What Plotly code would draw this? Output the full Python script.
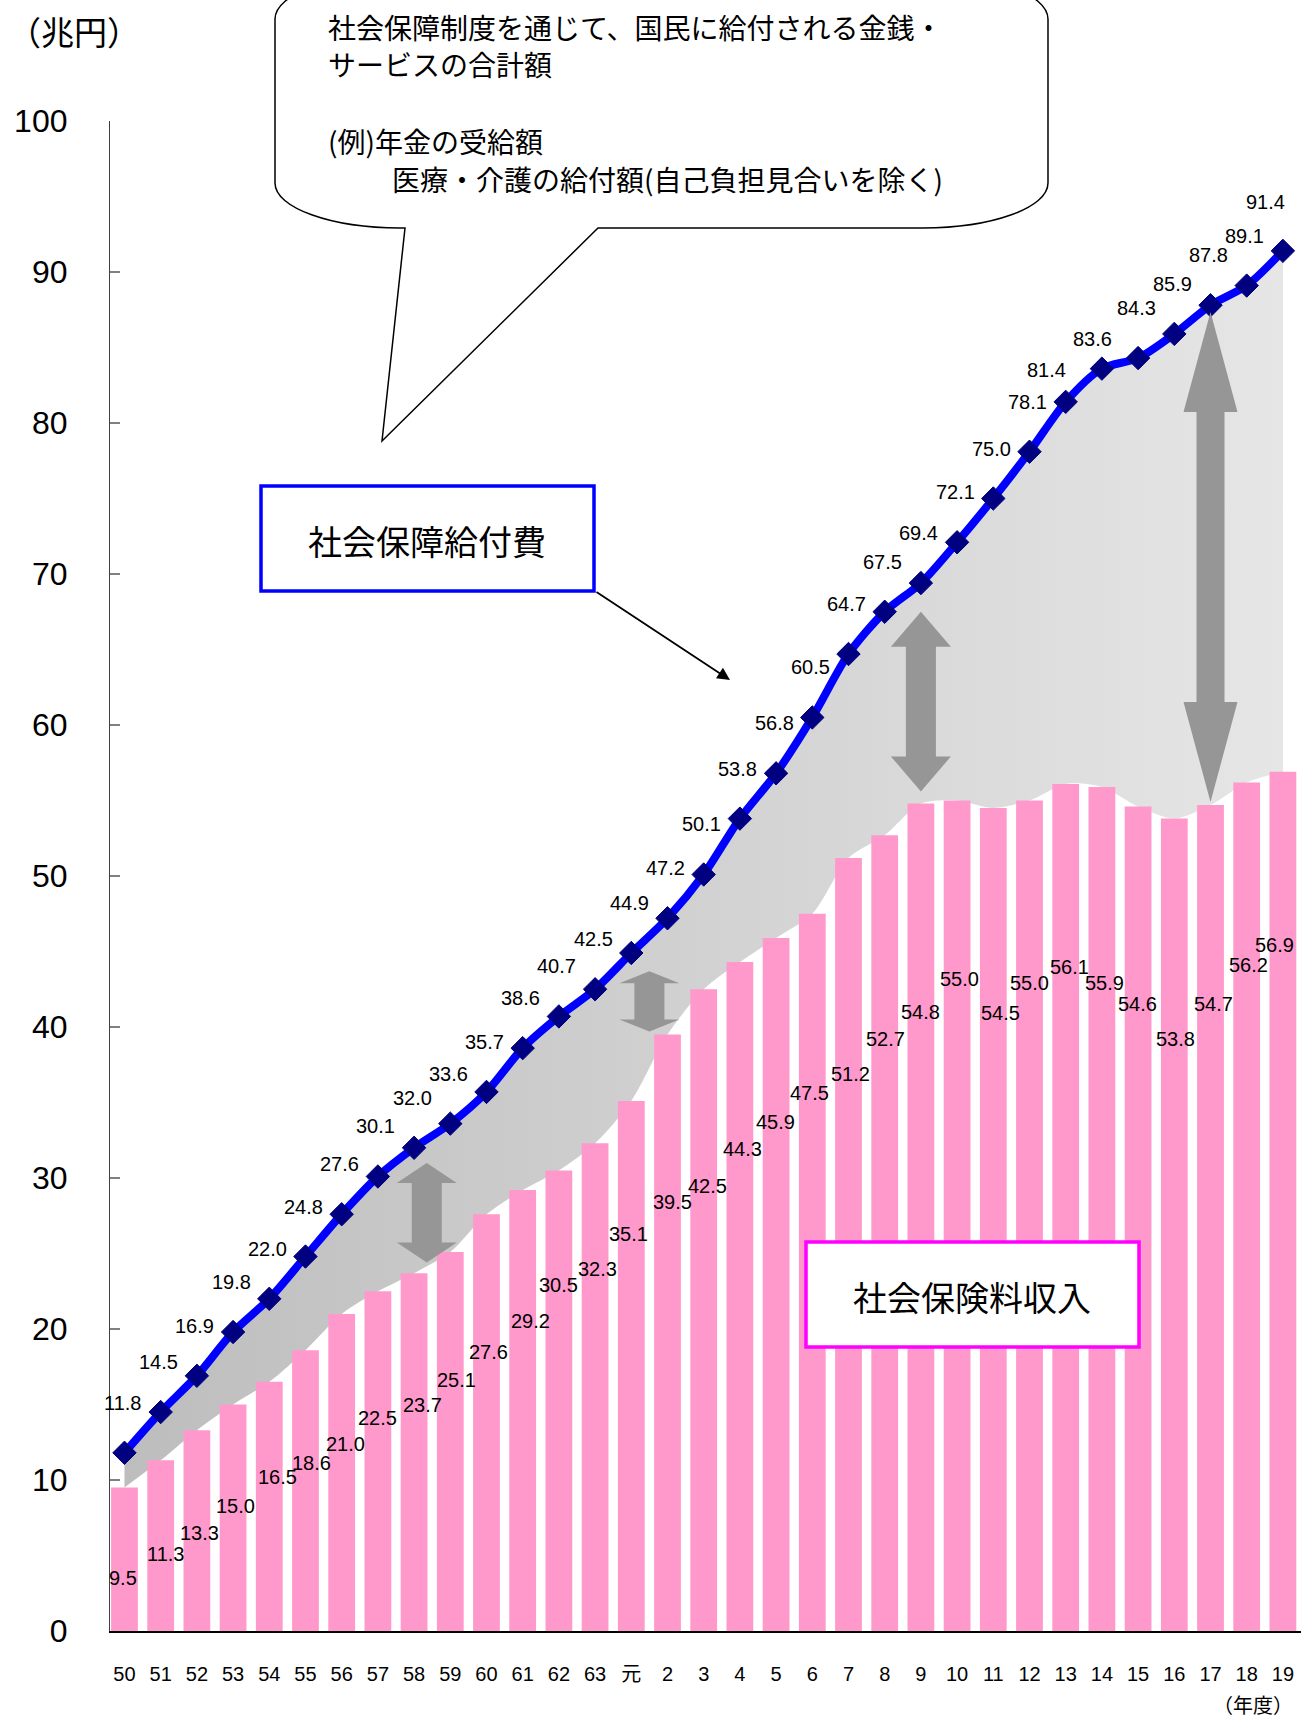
import plotly.graph_objects as go

# --- data (兆円) -------------------------------------------------------------
years = ["50", "51", "52", "53", "54", "55", "56", "57", "58", "59", "60", "61",
         "62", "63", "元", "2", "3", "4", "5", "6", "7", "8", "9", "10", "11",
         "12", "13", "14", "15", "16", "17", "18", "19"]

benefits = [11.8, 14.5, 16.9, 19.8, 22.0, 24.8, 27.6, 30.1, 32.0, 33.6, 35.7,
            38.6, 40.7, 42.5, 44.9, 47.2, 50.1, 53.8, 56.8, 60.5, 64.7, 67.5,
            69.4, 72.1, 75.0, 78.1, 81.4, 83.6, 84.3, 85.9, 87.8, 89.1, 91.4]

contributions = [9.5, 11.3, 13.3, 15.0, 16.5, 18.6, 21.0, 22.5, 23.7, 25.1,
                 27.6, 29.2, 30.5, 32.3, 35.1, 39.5, 42.5, 44.3, 45.9, 47.5,
                 51.2, 52.7, 54.8, 55.0, 54.5, 55.0, 56.1, 55.9, 54.6, 53.8,
                 54.7, 56.2, 56.9]

# --- layout geometry ---------------------------------------------------------
W, H = 1301, 1721
PLOT_L, PLOT_T = 110, 121
PLOT_W, PLOT_H = W - PLOT_L, 1510
X_RANGE = [-0.4, 32.5]
Y_RANGE = [0, 100]
X_PPU = PLOT_W / (X_RANGE[1] - X_RANGE[0])
Y_PPU = PLOT_H / (Y_RANGE[1] - Y_RANGE[0])

idx = list(range(len(years)))


def paper_x(px):
    return (px - PLOT_L) / PLOT_W


def paper_y(py):
    return (PLOT_T + PLOT_H - py) / PLOT_H


# label placement for the income bars (drop below bar top, in 兆円; x nudge in px)
income_label_drop = [6.0, 6.2, 6.8, 6.7, 6.3, 7.5, 8.6, 8.4, 8.7, 8.5, 9.1, 8.7,
                     7.6, 8.3, 8.8, 11.1, 13.0, 12.4, 12.2, 11.9, 14.3, 13.5,
                     13.8, 11.8, 13.6, 12.1, 12.1, 13.0, 13.1, 14.6, 13.2, 12.1,
                     11.5]
income_label_nudge = [-1, 5, 3, 2, 8, 6, 4, 0, 8, 6, 2, 8, 0, 2, -3, 5, 4, 3, -1,
                      -3, 2, 1, 0, 2, 7, 0, 4, 3, -1, 1, 3, 2, -8]

# benefit labels sit 50px above each point, a few are moved aside
benefit_label_shift = {26: (-19, 32), 27: (-9, 30), 32: (-17, 49)}

fig = go.Figure()

# lower edge of the shaded gap (income curve), invisible
fig.add_trace(go.Scatter(
    x=idx, y=contributions, mode="lines",
    line=dict(color="rgba(0,0,0,0)", width=0, shape="spline", smoothing=0.8),
    hoverinfo="skip", showlegend=False))

# benefit line with gradient fill down to the income curve
fig.add_trace(go.Scatter(
    x=idx, y=benefits, mode="lines+markers",
    line=dict(color="#0000FF", width=8, shape="spline", smoothing=0.8),
    marker=dict(symbol="diamond", size=18, color="#000080",
                line=dict(color="#000080", width=1)),
    fill="tonexty",
    fillgradient=dict(type="horizontal",
                      colorscale=[[0, "#bdbdbd"], [1, "#e6e6e6"]]),
    hoverinfo="skip", showlegend=False))

# income bars on an overlaid axis pair so they sit in front of the fill
fig.add_trace(go.Bar(
    x=idx, y=contributions, width=0.74,
    marker=dict(color="#FF99CC", line=dict(width=0)),
    xaxis="x2", yaxis="y2", hoverinfo="skip", showlegend=False))

annotations = []
label_font = dict(family="Liberation Sans, Arial, sans-serif", size=20,
                  color="black")

for i, v in enumerate(benefits):
    dx, dy = benefit_label_shift.get(i, (-2, 50))
    annotations.append(dict(
        x=i, y=v, xref="x", yref="y", text=f"{v:.1f}", showarrow=False,
        xshift=dx, yshift=dy, font=label_font,
        xanchor="center", yanchor="middle"))

for i, v in enumerate(contributions):
    annotations.append(dict(
        x=i, y=v - income_label_drop[i], xref="x", yref="y",
        text=f"{v:.1f}", showarrow=False, xshift=income_label_nudge[i],
        font=label_font, xanchor="center", yanchor="middle"))

jp = "Noto Sans CJK JP, sans-serif"

# unit and axis captions
annotations.append(dict(x=paper_x(6), y=paper_y(31), xref="paper", yref="paper",
                        text="（兆円）", showarrow=False, xanchor="left",
                        yanchor="middle", font=dict(family=jp, size=33, color="black")))
annotations.append(dict(x=paper_x(1295), y=paper_y(1705), xref="paper", yref="paper",
                        text="（年度）", showarrow=False, xanchor="right",
                        yanchor="middle", font=dict(family=jp, size=20, color="black")))

# speech bubble text
bubble_lines = [
    (326, 27, "社会保障制度を通じて、国民に給付される金銭・"),
    (326, 64, "サービスの合計額"),
    (326, 141, "(例)年金の受給額"),
    (390, 179, "医療・介護の給付額(自己負担見合いを除く)"),
]
for px, py, t in bubble_lines:
    annotations.append(dict(x=paper_x(px), y=paper_y(py), xref="paper", yref="paper",
                            text=t, showarrow=False, xanchor="left", yanchor="middle",
                            font=dict(family=jp, size=28, color="black")))

# series caption boxes
annotations.append(dict(x=paper_x(427), y=paper_y(540), xref="paper", yref="paper",
                        text="社会保障給付費", showarrow=False, xanchor="center",
                        yanchor="middle", font=dict(family=jp, size=34, color="black")))
annotations.append(dict(x=paper_x(972), y=paper_y(1296), xref="paper", yref="paper",
                        text="社会保険料収入", showarrow=False, xanchor="center",
                        yanchor="middle", font=dict(family=jp, size=34, color="black")))

# pointer from the benefit caption to the line
annotations.append(dict(x=paper_x(730), y=paper_y(680), xref="paper", yref="paper",
                        ax=595 - 730, ay=591 - 680, axref="pixel", ayref="pixel",
                        text="", showarrow=True, arrowhead=2, arrowsize=1.4,
                        arrowwidth=1.8, arrowcolor="black"))

shapes = []

# speech bubble outline
left, right, top, bottom = 275, 1048, -26, 228
rx, ry = 125, 45
k = 0.4477


def P(px, py):
    return f"{paper_x(px):.5f},{paper_y(py):.5f}"


bubble = (
    f"M{P(left, top + ry)} "
    f"L{P(left, bottom - ry)} "
    f"C{P(left, bottom - ry * k)} {P(left + rx * k, bottom)} {P(left + rx, bottom)} "
    f"L{P(405, bottom)} L{P(382, 441)} L{P(598, bottom)} "
    f"L{P(right - rx, bottom)} "
    f"C{P(right - rx * k, bottom)} {P(right, bottom - ry * k)} {P(right, bottom - ry)} "
    f"L{P(right, top + ry)} "
    f"C{P(right, top + ry * k)} {P(right - rx * k, top)} {P(right - rx, top)} "
    f"L{P(left + rx, top)} "
    f"C{P(left + rx * k, top)} {P(left, top + ry * k)} {P(left, top + ry)} Z"
)
shapes.append(dict(type="path", path=bubble, xref="paper", yref="paper",
                   fillcolor="white", line=dict(color="black", width=1.5),
                   layer="above"))

# caption boxes
shapes.append(dict(type="rect", xref="paper", yref="paper",
                   x0=paper_x(261), x1=paper_x(594), y0=paper_y(591), y1=paper_y(486),
                   fillcolor="white", line=dict(color="#0000FF", width=3.5),
                   layer="above"))
shapes.append(dict(type="rect", xref="paper", yref="paper",
                   x0=paper_x(806), x1=paper_x(1139), y0=paper_y(1347), y1=paper_y(1242),
                   fillcolor="white", line=dict(color="#FF00FF", width=3.5),
                   layer="above"))


def double_arrow(xc, y_top, y_bot, head_px, head_half_px, shaft_half_px):
    hx = head_half_px / X_PPU
    sx = shaft_half_px / X_PPU
    hy = head_px / Y_PPU
    pts = [(xc, y_top), (xc + hx, y_top - hy), (xc + sx, y_top - hy),
           (xc + sx, y_bot + hy), (xc + hx, y_bot + hy), (xc, y_bot),
           (xc - hx, y_bot + hy), (xc - sx, y_bot + hy), (xc - sx, y_top - hy),
           (xc - hx, y_top - hy)]
    return "M" + " L".join(f"{x:.4f},{y:.4f}" for x, y in pts) + " Z"


gap_arrows = [
    (8.35, 31.0, 24.4, 20, 30, 15),
    (14.5, 43.7, 39.7, 12, 30, 15),
    (22.0, 67.5, 55.6, 35, 30, 15),
    (30.0, 87.35, 54.9, 100, 27, 14),
]
for a in gap_arrows:
    shapes.append(dict(type="path", path=double_arrow(*a), xref="x", yref="y",
                       fillcolor="#969696", line=dict(width=0), layer="above"))

fig.update_layout(
    width=W, height=H,
    margin=dict(l=PLOT_L, r=0, t=PLOT_T, b=H - PLOT_T - PLOT_H, pad=0),
    paper_bgcolor="white", plot_bgcolor="white",
    showlegend=False, hovermode=False,
    annotations=annotations, shapes=shapes,
    xaxis=dict(range=X_RANGE, tickmode="array", tickvals=idx, ticktext=years,
               showgrid=False, zeroline=False, showline=True, linecolor="black",
               linewidth=2, ticks="", ticklabelstandoff=24,
               tickfont=dict(family="Liberation Sans, Noto Sans CJK JP, sans-serif",
                             size=20, color="black")),
    yaxis=dict(range=Y_RANGE, tickmode="array", tickvals=list(range(0, 101, 10)),
               showgrid=False, zeroline=False, showline=True, linecolor="#404040",
               linewidth=1.2, ticks="inside", ticklen=10, tickcolor="#808080",
               tickwidth=1.5, ticklabelstandoff=35,
               tickfont=dict(family="Liberation Sans, Arial, sans-serif", size=32,
                             color="black")),
    xaxis2=dict(range=X_RANGE, overlaying="x", anchor="y2", visible=False),
    yaxis2=dict(range=Y_RANGE, overlaying="y", anchor="x2", visible=False),
)

fig.write_html("out.html")
